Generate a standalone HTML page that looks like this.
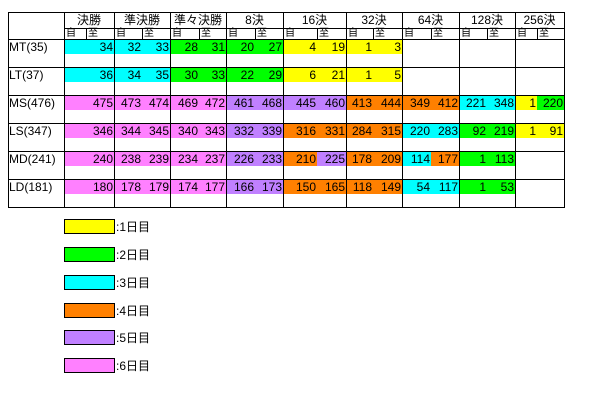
<!DOCTYPE html>
<html><head><meta charset="utf-8"><style>
body{margin:0;background:#fff;width:600px;height:400px;position:relative;overflow:hidden;font-family:"Liberation Sans","Noto Sans CJK JP",sans-serif;font-size:12px;color:#000}
div{position:absolute;box-sizing:border-box}
.c{height:14px;line-height:14px;text-align:right;padding-right:1px}
.h{height:1px;background:#000;z-index:2}
.v{width:1px;background:#000;z-index:2}
.t{line-height:14px;white-space:nowrap}
.s{line-height:10px;font-size:10px;top:29px;white-space:nowrap}
.Y{background:#ffff00}.G{background:#00ff00}.C{background:#00ffff}.O{background:#ff8000}.U{background:#c080ff}.P{background:#ff80ff}
.lg{left:64px;width:51px;height:15px;border:1px solid #000}
</style></head><body>
<div class="h" style="left:8px;top:12px;width:557px"></div>
<div class="h" style="left:64px;top:28px;width:501px"></div>
<div class="h" style="left:8px;top:39px;width:557px"></div>
<div class="h" style="left:8px;top:67px;width:557px"></div>
<div class="h" style="left:8px;top:95px;width:557px"></div>
<div class="h" style="left:8px;top:123px;width:557px"></div>
<div class="h" style="left:8px;top:151px;width:557px"></div>
<div class="h" style="left:8px;top:179px;width:557px"></div>
<div class="h" style="left:8px;top:207px;width:557px"></div>
<div class="v" style="left:8px;top:12px;height:196px"></div>
<div class="v" style="left:64px;top:12px;height:196px"></div>
<div class="v" style="left:114px;top:12px;height:196px"></div>
<div class="v" style="left:170px;top:12px;height:196px"></div>
<div class="v" style="left:226px;top:12px;height:196px"></div>
<div class="v" style="left:283px;top:12px;height:196px"></div>
<div class="v" style="left:346px;top:12px;height:196px"></div>
<div class="v" style="left:402px;top:12px;height:196px"></div>
<div class="v" style="left:459px;top:12px;height:196px"></div>
<div class="v" style="left:515px;top:12px;height:196px"></div>
<div class="v" style="left:564px;top:12px;height:196px"></div>
<div class="v" style="left:86px;top:28px;height:11px"></div>
<div class="v" style="left:142px;top:28px;height:11px"></div>
<div class="v" style="left:199px;top:28px;height:11px"></div>
<div class="v" style="left:255px;top:28px;height:11px"></div>
<div class="v" style="left:317px;top:28px;height:11px"></div>
<div class="v" style="left:373px;top:28px;height:11px"></div>
<div class="v" style="left:431px;top:28px;height:11px"></div>
<div class="v" style="left:487px;top:28px;height:11px"></div>
<div class="v" style="left:537px;top:28px;height:11px"></div>
<div class="t" style="left:64px;top:13px;width:50px;text-align:center">決勝</div>
<div class="t" style="left:114px;top:13px;width:56px;text-align:center">準決勝</div>
<div class="t" style="left:170px;top:13px;width:56px;text-align:center">準々決勝</div>
<div class="t" style="left:226px;top:13px;width:57px;text-align:center">8決</div>
<div class="t" style="left:283px;top:13px;width:63px;text-align:center">16決</div>
<div class="t" style="left:346px;top:13px;width:56px;text-align:center">32決</div>
<div class="t" style="left:402px;top:13px;width:57px;text-align:center">64決</div>
<div class="t" style="left:459px;top:13px;width:56px;text-align:center">128決</div>
<div class="t" style="left:515px;top:13px;width:49px;text-align:center">256決</div>
<div class="s" style="left:66px">自</div><div class="s" style="left:88px">至</div>
<div class="s" style="left:116px">自</div><div class="s" style="left:144px">至</div>
<div class="s" style="left:172px">自</div><div class="s" style="left:201px">至</div>
<div class="s" style="left:228px">自</div><div class="s" style="left:257px">至</div>
<div class="s" style="left:285px">自</div><div class="s" style="left:319px">至</div>
<div class="s" style="left:348px">自</div><div class="s" style="left:375px">至</div>
<div class="s" style="left:404px">自</div><div class="s" style="left:433px">至</div>
<div class="s" style="left:461px">自</div><div class="s" style="left:489px">至</div>
<div class="s" style="left:517px">自</div><div class="s" style="left:539px">至</div>
<div class="t" style="left:9px;top:40px">MT(35)</div>
<div class="t" style="left:9px;top:68px">LT(37)</div>
<div class="t" style="left:9px;top:96px">MS(476)</div>
<div class="t" style="left:9px;top:124px">LS(347)</div>
<div class="t" style="left:9px;top:152px">MD(241)</div>
<div class="t" style="left:9px;top:180px">LD(181)</div>
<div class="c C" style="left:64px;top:40px;width:50px">34</div>
<div class="c C" style="left:114px;top:40px;width:28px">32</div><div class="c C" style="left:142px;top:40px;width:28px">33</div>
<div class="c G" style="left:170px;top:40px;width:29px">28</div><div class="c G" style="left:199px;top:40px;width:27px">31</div>
<div class="c G" style="left:226px;top:40px;width:29px">20</div><div class="c G" style="left:255px;top:40px;width:28px">27</div>
<div class="c Y" style="left:283px;top:40px;width:34px">4</div><div class="c Y" style="left:317px;top:40px;width:29px">19</div>
<div class="c Y" style="left:346px;top:40px;width:27px">1</div><div class="c Y" style="left:373px;top:40px;width:29px">3</div>
<div class="c C" style="left:64px;top:68px;width:50px">36</div>
<div class="c C" style="left:114px;top:68px;width:28px">34</div><div class="c C" style="left:142px;top:68px;width:28px">35</div>
<div class="c G" style="left:170px;top:68px;width:29px">30</div><div class="c G" style="left:199px;top:68px;width:27px">33</div>
<div class="c G" style="left:226px;top:68px;width:29px">22</div><div class="c G" style="left:255px;top:68px;width:28px">29</div>
<div class="c Y" style="left:283px;top:68px;width:34px">6</div><div class="c Y" style="left:317px;top:68px;width:29px">21</div>
<div class="c Y" style="left:346px;top:68px;width:27px">1</div><div class="c Y" style="left:373px;top:68px;width:29px">5</div>
<div class="c P" style="left:64px;top:96px;width:50px">475</div>
<div class="c P" style="left:114px;top:96px;width:28px">473</div><div class="c P" style="left:142px;top:96px;width:28px">474</div>
<div class="c P" style="left:170px;top:96px;width:29px">469</div><div class="c P" style="left:199px;top:96px;width:27px">472</div>
<div class="c U" style="left:226px;top:96px;width:29px">461</div><div class="c U" style="left:255px;top:96px;width:28px">468</div>
<div class="c U" style="left:283px;top:96px;width:34px">445</div><div class="c U" style="left:317px;top:96px;width:29px">460</div>
<div class="c O" style="left:346px;top:96px;width:27px">413</div><div class="c O" style="left:373px;top:96px;width:29px">444</div>
<div class="c O" style="left:402px;top:96px;width:29px">349</div><div class="c O" style="left:431px;top:96px;width:28px">412</div>
<div class="c C" style="left:459px;top:96px;width:28px">221</div><div class="c C" style="left:487px;top:96px;width:28px">348</div>
<div class="c Y" style="left:515px;top:96px;width:22px">1</div><div class="c G" style="left:537px;top:96px;width:27px">220</div>
<div class="c P" style="left:64px;top:124px;width:50px">346</div>
<div class="c P" style="left:114px;top:124px;width:28px">344</div><div class="c P" style="left:142px;top:124px;width:28px">345</div>
<div class="c P" style="left:170px;top:124px;width:29px">340</div><div class="c P" style="left:199px;top:124px;width:27px">343</div>
<div class="c U" style="left:226px;top:124px;width:29px">332</div><div class="c U" style="left:255px;top:124px;width:28px">339</div>
<div class="c O" style="left:283px;top:124px;width:34px">316</div><div class="c O" style="left:317px;top:124px;width:29px">331</div>
<div class="c O" style="left:346px;top:124px;width:27px">284</div><div class="c O" style="left:373px;top:124px;width:29px">315</div>
<div class="c C" style="left:402px;top:124px;width:29px">220</div><div class="c C" style="left:431px;top:124px;width:28px">283</div>
<div class="c G" style="left:459px;top:124px;width:28px">92</div><div class="c G" style="left:487px;top:124px;width:28px">219</div>
<div class="c Y" style="left:515px;top:124px;width:22px">1</div><div class="c Y" style="left:537px;top:124px;width:27px">91</div>
<div class="c P" style="left:64px;top:152px;width:50px">240</div>
<div class="c P" style="left:114px;top:152px;width:28px">238</div><div class="c P" style="left:142px;top:152px;width:28px">239</div>
<div class="c P" style="left:170px;top:152px;width:29px">234</div><div class="c P" style="left:199px;top:152px;width:27px">237</div>
<div class="c U" style="left:226px;top:152px;width:29px">226</div><div class="c U" style="left:255px;top:152px;width:28px">233</div>
<div class="c O" style="left:283px;top:152px;width:34px">210</div><div class="c U" style="left:317px;top:152px;width:29px">225</div>
<div class="c O" style="left:346px;top:152px;width:27px">178</div><div class="c O" style="left:373px;top:152px;width:29px">209</div>
<div class="c C" style="left:402px;top:152px;width:29px">114</div><div class="c O" style="left:431px;top:152px;width:28px">177</div>
<div class="c G" style="left:459px;top:152px;width:28px">1</div><div class="c G" style="left:487px;top:152px;width:28px">113</div>
<div class="c P" style="left:64px;top:180px;width:50px">180</div>
<div class="c P" style="left:114px;top:180px;width:28px">178</div><div class="c P" style="left:142px;top:180px;width:28px">179</div>
<div class="c P" style="left:170px;top:180px;width:29px">174</div><div class="c P" style="left:199px;top:180px;width:27px">177</div>
<div class="c U" style="left:226px;top:180px;width:29px">166</div><div class="c U" style="left:255px;top:180px;width:28px">173</div>
<div class="c O" style="left:283px;top:180px;width:34px">150</div><div class="c O" style="left:317px;top:180px;width:29px">165</div>
<div class="c O" style="left:346px;top:180px;width:27px">118</div><div class="c O" style="left:373px;top:180px;width:29px">149</div>
<div class="c C" style="left:402px;top:180px;width:29px">54</div><div class="c C" style="left:431px;top:180px;width:28px">117</div>
<div class="c G" style="left:459px;top:180px;width:28px">1</div><div class="c G" style="left:487px;top:180px;width:28px">53</div>
<div class="lg Y" style="top:219px"></div><div class="t" style="left:116px;top:220px">:1日目</div>
<div class="lg G" style="top:247px"></div><div class="t" style="left:116px;top:248px">:2日目</div>
<div class="lg C" style="top:275px"></div><div class="t" style="left:116px;top:276px">:3日目</div>
<div class="lg O" style="top:303px"></div><div class="t" style="left:116px;top:304px">:4日目</div>
<div class="lg U" style="top:330px"></div><div class="t" style="left:116px;top:331px">:5日目</div>
<div class="lg P" style="top:358px"></div><div class="t" style="left:116px;top:359px">:6日目</div>
</body></html>
